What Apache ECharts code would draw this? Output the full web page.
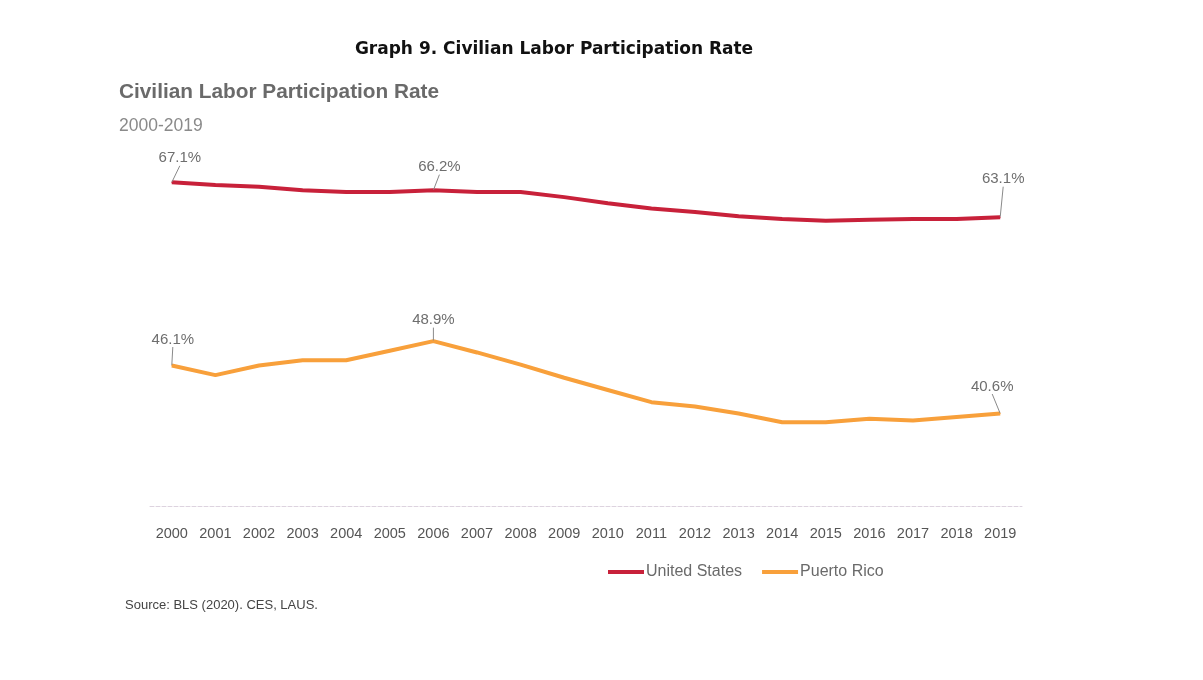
<!DOCTYPE html>
<html>
<head>
<meta charset="utf-8">
<script src="https://cdn.jsdelivr.net/npm/echarts@6/dist/echarts.min.js"></script>
<style>
html,body{margin:0;padding:0;background:#fff;}
#chart{width:1203px;height:680px;}
</style>
</head>
<body>
<div id="chart"></div>
<script>
const years = ['2000','2001','2002','2003','2004','2005','2006','2007','2008','2009','2010','2011','2012','2013','2014','2015','2016','2017','2018','2019'];
const unitedStates = [67.1,66.8,66.6,66.2,66.0,66.0,66.2,66.0,66.0,65.4,64.7,64.1,63.7,63.2,62.9,62.7,62.8,62.9,62.9,63.1];
const puertoRico = [46.1,45.0,46.1,46.7,46.7,47.8,48.9,47.6,46.2,44.7,43.3,41.9,41.4,40.6,39.6,39.6,40.0,39.8,40.2,40.6];
const labelledIdx = [0,6,19];

const chart = echarts.init(document.getElementById('chart'));

function buildData(vals){
  return vals.map((v,i)=>({
    value:v,
    label:{show: labelledIdx.indexOf(i)>=0},
    labelLine:{show: labelledIdx.indexOf(i)>=0}
  }));
}

const usOffsets = {0:[8,-12],6:[6,-11],19:[3,-26]};
const prOffsets = {0:[1,-14],6:[0,-9],19:[-8,-15]};

const labelStyle = {
  show:false,
  formatter: p => p.value.toFixed(1)+'%',
  color:'#6e6e6e',
  fontSize:15,
  fontFamily:'Liberation Sans',
  position:'top',
  distance:4
};

chart.setOption({
  backgroundColor:'#ffffff',
  animation:false,
  title:[
    {text:'Graph 9. Civilian Labor Participation Rate', left:549, top:36, textAlign:'center',
     textStyle:{fontFamily:'DejaVu Sans', fontWeight:'bold', fontSize:17, color:'#111'}},
    {text:'Civilian Labor Participation Rate', left:114, top:77,
     textStyle:{fontFamily:'Liberation Sans', fontWeight:'bold', fontSize:20.8, color:'#6a6a6a'}},
    {text:'2000-2019', left:114, top:112,
     textStyle:{fontFamily:'Liberation Sans', fontWeight:'normal', fontSize:17.5, color:'#8a8a8a'}},
    {text:'Source: BLS (2020). CES, LAUS.', left:120, top:594,
     textStyle:{fontFamily:'Liberation Sans', fontWeight:'normal', fontSize:13, color:'#444'}}
  ],
  legend:{
    left:603, top:559,
    icon:'rect', itemWidth:36, itemHeight:4, itemGap:20,
    textStyle:{fontFamily:'Liberation Sans', fontSize:16, color:'#6a6a6a', padding:[0,0,0,-3]},
    data:['United States','Puerto Rico']
  },
  grid:{left:150, right:181, top:157, bottom:174},
  xAxis:{
    type:'category', data:years, boundaryGap:true,
    axisLine:{lineStyle:{color:'#ddd3df', width:1, type:'dashed'}},
    axisTick:{show:false},
    axisLabel:{color:'#555', fontSize:14.5, fontFamily:'Liberation Sans', margin:20}
  },
  yAxis:{
    type:'value', min:30, max:70, show:false, splitLine:{show:false}
  },
  series:[
    {
      name:'United States', type:'line', data:buildData(unitedStates),
      symbol:'circle', symbolSize:1, showSymbol:true, smooth:false,
      lineStyle:{color:'#c8213a', width:4}, itemStyle:{color:'#c8213a'},
      label:labelStyle,
      labelLine:{lineStyle:{color:'#8a8a8a', width:1}, length2:0},
      labelLayout:p=>{const o=usOffsets[p.dataIndex]||[0,0]; return {dx:o[0], dy:o[1]};}
    },
    {
      name:'Puerto Rico', type:'line', data:buildData(puertoRico),
      symbol:'circle', symbolSize:1, showSymbol:true, smooth:false,
      lineStyle:{color:'#f8a03b', width:4}, itemStyle:{color:'#f8a03b'},
      label:labelStyle,
      labelLine:{lineStyle:{color:'#8a8a8a', width:1}, length2:0},
      labelLayout:p=>{const o=prOffsets[p.dataIndex]||[0,0]; return {dx:o[0], dy:o[1]};}
    }
  ]
});
</script>
</body>
</html>
